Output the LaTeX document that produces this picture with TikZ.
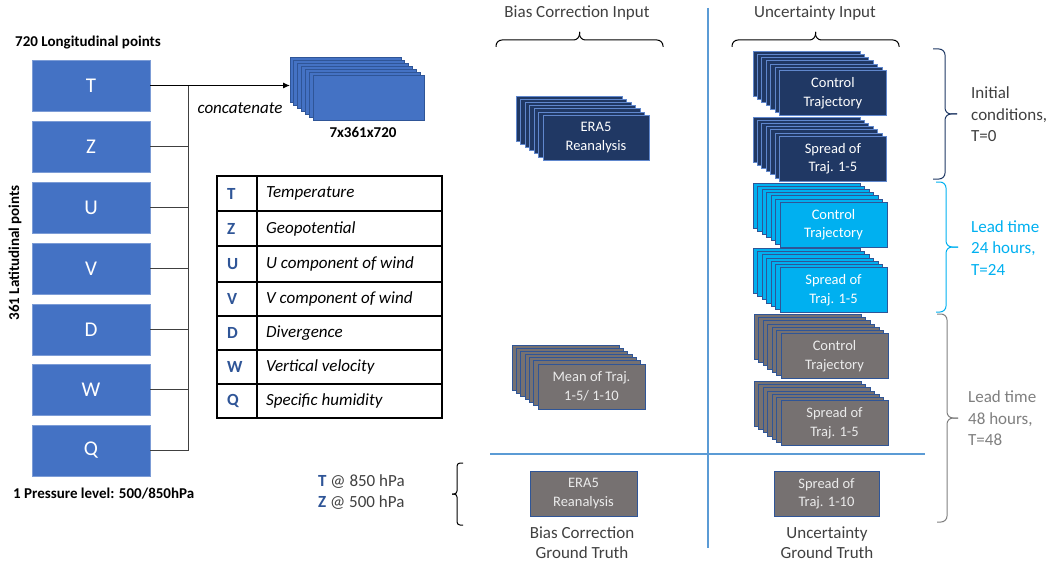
\documentclass[tikz,border=0pt]{standalone}
\usepackage{fontspec}
\setmainfont{Carlito}
\usetikzlibrary{arrows.meta}
\definecolor{boxblue}{HTML}{4472C4}
\definecolor{navyfill}{HTML}{203864}
\definecolor{skyfill}{HTML}{00B0F0}
\definecolor{grayfill}{HTML}{767171}
\definecolor{edgeblue}{HTML}{2F5597}
\definecolor{lineblue}{HTML}{5B9BD5}
\definecolor{txtgray}{HTML}{404040}
\definecolor{labgray}{HTML}{7F7F7F}
\definecolor{navyline}{HTML}{1F3864}
\newcommand\fsz[2]{\fontsize{#1}{#2}\selectfont}
% #1 name, #2 back x, #3 back y, #4 width, #5 dx, #6 dy, #7 style, #8 text
\newcommand\mystack[8]{%
  \foreach \i in {0,...,5}{
    \path[#7] ({#2+\i*#5},{#3+\i*#6}) rectangle ++(#4,45);
  }
  \coordinate (#1-back) at (#2,{#3+22.5});
  \node[stackfront,#7,minimum width=#4pt] (#1) at ({#2+6*#5+#4/2},{#3+6*#6+22.5}) {#8};
}
\tikzset{
  stackfront/.style={minimum height=45pt, inner sep=0pt, outer sep=0pt, align=center, font=\fsz{14.5}{18.5}},
  navystack/.style={fill=navyfill, draw=boxblue!85!white, line width=0.8pt, text=white},
  skystack/.style={fill=skyfill, draw=edgeblue, line width=0.8pt, text=white},
  graystack/.style={fill=grayfill, draw=edgeblue, line width=0.8pt, text=white!92!black},
  bluestack/.style={fill=boxblue, draw=edgeblue, line width=0.8pt},
  varbox/.style={fill=boxblue, draw=boxblue!70!white, line width=0.8pt, minimum width=118pt, minimum height=51pt, inner sep=0pt, outer sep=0pt, text=white, font=\fsz{21}{25}},
  busline/.style={draw=txtgray, line width=1pt},
  boldlab/.style={font=\fsz{15}{18}\bfseries, text=black, inner sep=0pt},
  titlelab/.style={font=\fsz{17}{20}, text=txtgray, inner sep=0pt, align=center},
  tabkey/.style={font=\fsz{17}{20}\bfseries, text=edgeblue, inner sep=0pt, anchor=west},
  tabval/.style={font=\fsz{17}{20}\itshape, text=black, inner sep=0pt, anchor=west},
  sidelab/.style={font=\fsz{17}{21.5}, inner sep=0pt, anchor=west, align=left},
  bracestyle/.style={line width=1pt, rounded corners=6pt},
  divline/.style={draw=lineblue, line width=1.5pt}
}
\begin{document}
\begin{tikzpicture}[x=1pt,y=-1pt]
\useasboundingbox (0,0) rectangle (1054,567);

% ---------- left variable boxes ----------
\node[varbox] (T) at (91,85.5) {T};
\node[varbox] (Z) at (91,146.5) {Z};
\node[varbox] (U) at (91,207.5) {U};
\node[varbox] (V) at (91,268.5) {V};
\node[varbox] (D) at (91,329.5) {D};
\node[varbox] (W) at (91,389.5) {W};
\node[varbox] (Q) at (91,450.5) {Q};

\node[boldlab, anchor=west] (lon) at (15,43) {720 Longitudinal points};
\node[boldlab, rotate=90] (lat) at (15,253) {361 Latitudinal points};
\node[boldlab, anchor=west] (plev) at (13,494) {1 Pressure level: 500/850hPa};

% concatenated stack
\mystack{cat}{290}{57}{111}{3.83}{3}{bluestack}{}
\node[boldlab] (catlab) at (363,132) {7x361x720};

\coordinate (bus) at (188,0);
\draw[busline] (T.east -| bus) -- (Q.east -| bus);
\foreach \b in {Z,U,V,D,W,Q}{
  \draw[busline] (\b.east) -- (\b.east -| bus);
}
\draw[line width=1pt, -{Latex[length=7pt,width=6pt]}] (T.east) -- (T.east -| cat-back);
\node[font=\fsz{17}{20}\itshape, inner sep=0pt] (concat) at (240,108) {concatenate};

% ---------- table ----------
\draw[line width=1.2pt] (217,176) rectangle (442,418);
\foreach \yy in {211,246,282,316,350,384}{
  \draw[line width=1.2pt] (217,\yy) -- (442,\yy);
}
\draw[line width=1.2pt] (257,176) -- (257,418);
\foreach \k/\v/\yy in {T/Temperature/193.5, Z/Geopotential/228.5, U/U component of wind/264, V/V component of wind/299, D/Divergence/333, W/Vertical velocity/367, Q/Specific humidity/401}{
  \node[tabkey] (key\k) at (227,\yy) {\k};
  \node[tabval] (val\k) at (266,\yy) {\v};
}

% ---------- dividers ----------
\draw[divline] (708,8) -- (708,548);
\draw[divline] (490,454) -- (925,454);

% ---------- titles and top braces ----------
\node[titlelab] (bci) at (577,13) {Bias Correction Input};
\node[titlelab] (uci) at (815,13) {Uncertainty Input};
\draw[bracestyle, draw=black] (496,47) -- (496,40) -- (579.5,40) -- (579.5,32);
\draw[bracestyle, draw=black] (663,47) -- (663,40) -- (579.5,40) -- (579.5,32);
\draw[bracestyle, draw=black] (732,47) -- (732,40) -- (815.5,40) -- (815.5,32);
\draw[bracestyle, draw=black] (899,47) -- (899,40) -- (815.5,40) -- (815.5,32);

% ---------- bias correction stacks ----------
\mystack{era}{516}{96}{106}{4.5}{3.2}{navystack}{ERA5\\Reanalysis}
\mystack{mean}{512}{345}{107}{4.33}{3.17}{graystack}{Mean of Traj.\\1-5/ 1-10}

% ---------- uncertainty stacks ----------
\mystack{ctrlA}{753}{51}{107}{4.4}{3.3}{navystack}{Control\\Trajectory}
\mystack{sprA}{753}{117}{107}{4.4}{3.2}{navystack}{Spread of\\Traj. 1-5}
\mystack{ctrlB}{753}{183}{107}{4.5}{3.2}{skystack}{Control\\Trajectory}
\mystack{sprB}{753}{248}{107}{4.5}{3.3}{skystack}{Spread of\\Traj. 1-5}
\mystack{ctrlC}{754}{314}{107}{4.5}{3.3}{graystack}{Control\\Trajectory}
\mystack{sprC}{754}{381}{107}{4.5}{3.3}{graystack}{Spread of\\Traj. 1-5}

% ---------- right braces and labels ----------
\draw[bracestyle, draw=navyline] (933,49) -- (945,49) -- (945,114) -- (957,114);
\draw[bracestyle, draw=navyline] (933,179) -- (945,179) -- (945,114) -- (957,114);
\node[sidelab, text=txtgray] (lab0) at (971,114.5) {Initial\\conditions,\\T=0};

\draw[bracestyle, draw=skyfill] (936,182) -- (946,182) -- (946,247) -- (958,247);
\draw[bracestyle, draw=skyfill] (936,312) -- (946,312) -- (946,247) -- (958,247);
\node[sidelab, text=skyfill] (lab24) at (971,248) {Lead time\\24 hours,\\T=24};

\draw[bracestyle, draw=labgray] (937,314) -- (947,314) -- (947,418) -- (958,418);
\draw[bracestyle, draw=labgray] (937,522) -- (947,522) -- (947,418) -- (958,418);
\node[sidelab, text=labgray] (lab48) at (968,418.5) {Lead time\\48 hours,\\T=48};

% ---------- ground truth ----------
\node[stackfront, graystack, minimum width=107pt] (gtbias) at (583.5,493.5) {ERA5\\Reanalysis};
\node[stackfront, graystack, minimum width=105pt] (gtunc) at (826.5,493.5) {Spread of\\Traj. 1-10};
\node[titlelab, font=\fsz{17}{20}] (gtbiaslab) at (582,543) {Bias Correction\\Ground Truth};
\node[titlelab, font=\fsz{17}{20}] (gtunclab) at (827,543) {Uncertainty\\Ground Truth};

\node[sidelab, font=\fsz{17}{21}, text=txtgray] (levels) at (318,492.5) {\textcolor{edgeblue}{\bfseries T} @ 850 hPa\\\textcolor{edgeblue}{\bfseries Z} @ 500 hPa};
\draw[line width=1pt, rounded corners=3pt] (463,463) -- (457,463) -- (457,494) -- (452,494);
\draw[line width=1pt, rounded corners=3pt] (463,525) -- (457,525) -- (457,494) -- (452,494);
\end{tikzpicture}
\end{document}
